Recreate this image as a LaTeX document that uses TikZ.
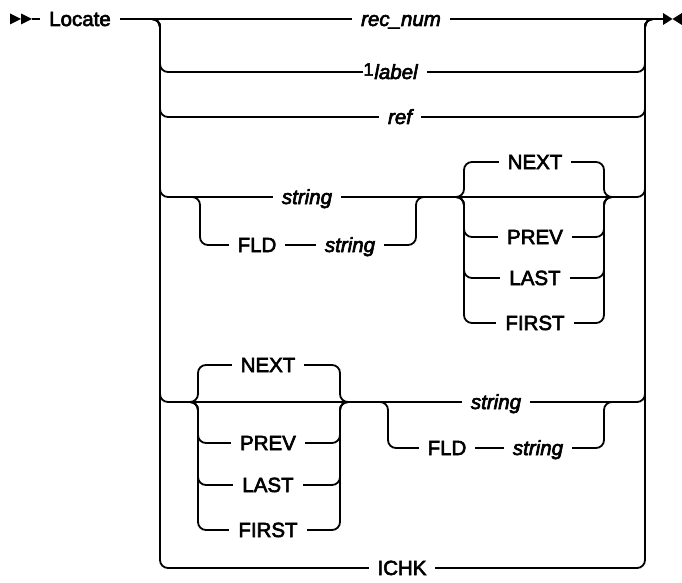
\documentclass[tikz,border=0pt]{standalone}
\usepackage{fontspec}
\setmainfont{Liberation Sans}[FakeBold=3]
\begin{document}
\begin{tikzpicture}[x=1pt,y=-1pt,line width=1.8pt,
  rail/.style={rounded corners=8pt},
  kw/.style={font=\fontsize{20.5}{24}\selectfont, fill=white, inner xsep=9pt, inner ysep=1pt, anchor=base},
  var/.style={kw, font=\fontsize{20.5}{24}\selectfont\itshape},
  tip/.style={fill=black, line width=0.5pt}]
\useasboundingbox (0,0) rectangle (682,583);
% start and end markers
\coordinate (s0) at (32,19);
\coordinate (s1) at (40,19);
\coordinate (e0) at (663,19);
\fill[tip] (10,13.5) -- (21,19) -- (10,24.5) -- cycle;
\fill[tip] (21,13.5) -- (32,19) -- (21,24.5) -- cycle;
\fill[tip] (663,13) -- (672.5,19) -- (663,25) -- cycle;
\fill[tip] (682,13) -- (672.5,19) -- (682,25) -- cycle;
\draw (s0) -- (s1);
\draw (120,19) -- (e0);
% main alternatives
\foreach \y in {72,117,197,402,568}
  \draw[rail] (150,19) -- (160,19) -- (160,\y) -- (175,\y) -- (630,\y) -- (645,\y) -- (645,19) -- (655,19);
% row 4: string / FLD string
\draw[rail] (190,197) -- (200,197) -- (200,245) -- (416,245) -- (416,197) -- (426,197);
% row 4: NEXT group
\draw[rail] (454,197) -- (464,197) -- (464,162) -- (604,162) -- (604,197) -- (614,197);
\foreach \y in {237,278,323}
  \draw[rail] (454,197) -- (464,197) -- (464,\y) -- (604,\y) -- (604,197) -- (614,197);
% row 5: NEXT group
\draw[rail] (188,402) -- (198,402) -- (198,365) -- (340,365) -- (340,402) -- (350,402);
\foreach \y in {443,485,530}
  \draw[rail] (188,402) -- (198,402) -- (198,\y) -- (340,\y) -- (340,402) -- (350,402);
% row 5: string / FLD string
\draw[rail] (378,402) -- (388,402) -- (388,448) -- (604,448) -- (604,402) -- (614,402);
% texts
\node[kw] (locate) at (80,26) {Locate};
\node[var] (recnum) at (401,26) {rec\_num};
\node[var] (label) at (396,79) {label};
\node[font=\fontsize{18}{18}\selectfont, fill=white, inner sep=1pt] (one) at (368.5,69.5) {1};
\node[var] (ref) at (400,124) {ref};
\node[var] (str1) at (307,204) {string};
\node[kw] (fld1) at (257,252) {FLD};
\node[var] (str2) at (350,252) {string};
\node[kw] (nexta) at (535,169) {NEXT};
\node[kw] (preva) at (535,244) {PREV};
\node[kw] (lasta) at (535,285) {LAST};
\node[kw] (firsta) at (535,330) {FIRST};
\node[kw] (nextb) at (268,372) {NEXT};
\node[kw] (prevb) at (268,450) {PREV};
\node[kw] (lastb) at (268,492) {LAST};
\node[kw] (firstb) at (268,537) {FIRST};
\node[var] (str3) at (496,409) {string};
\node[kw] (fld2) at (447,455) {FLD};
\node[var] (str4) at (538,455) {string};
\node[kw] (ichk) at (402,575) {ICHK};
\end{tikzpicture}
\end{document}
